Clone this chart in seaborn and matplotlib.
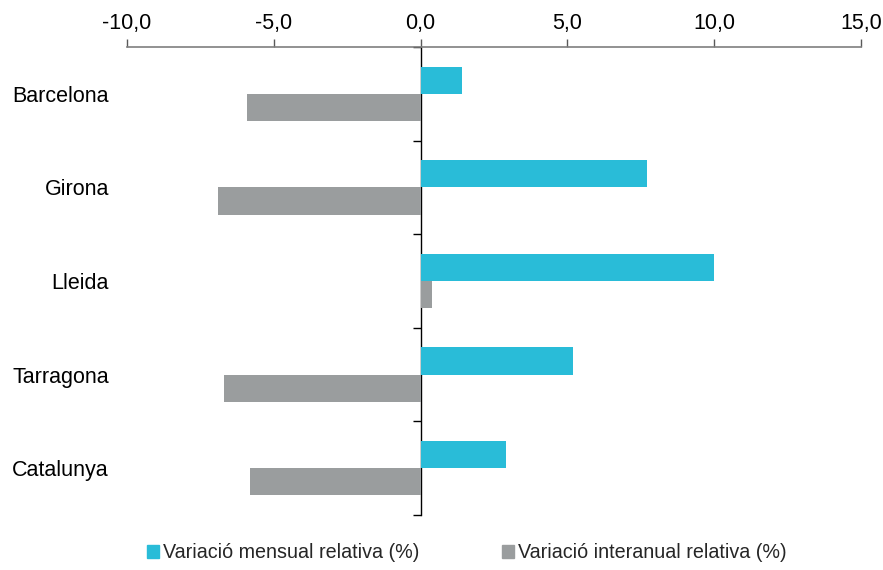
import pandas as pd
import numpy as np
import matplotlib
matplotlib.use("Agg")
import matplotlib.pyplot as plt
import seaborn as sns

# dades
zones = ["Barcelona", "Girona", "Lleida", "Tarragona", "Catalunya"]
mensual = [1.4, 7.7, 10.0, 5.2, 2.9]
interanual = [-5.9, -6.9, 0.4, -6.7, -5.8]
series = ["Variació mensual relativa (%)", "Variació interanual relativa (%)"]
colors = ["#29BCD8", "#9A9D9E"]
xticks = [-10, -5, 0, 5, 10, 15]

df = pd.DataFrame({
    "zona": zones * 2,
    "valor": mensual + interanual,
    "serie": [series[0]] * len(zones) + [series[1]] * len(zones),
})

sns.set_style("white")
plt.rcParams["font.family"] = ["Liberation Sans", "DejaVu Sans"]

fig = plt.figure(figsize=(8.83, 5.70), dpi=100)
ax = fig.add_axes([127 / 883, 1 - 515 / 570, (861 - 127) / 883, (515 - 47) / 570])

sns.barplot(data=df, y="zona", x="valor", hue="serie", orient="h",
            palette=colors, saturation=1, width=0.58, gap=0, ax=ax,
            legend=False, linewidth=0)

ax.set_xlim(xticks[0], xticks[-1])
ax.set_ylim(len(zones) - 0.5, -0.5)
ax.set_xticks(xticks)
ax.set_xticklabels([f"{v:.1f}".replace(".", ",") for v in xticks])
ax.xaxis.tick_top()
ax.tick_params(axis="x", top=True, bottom=False, direction="out", length=6,
               width=1, color="#595959", labelsize=15.5, pad=3, labelcolor="black")
ax.tick_params(axis="y", left=False, length=0, labelsize=15.5, pad=13, labelcolor="black")
ax.set_xlabel("")
ax.set_ylabel("")

for s in ["left", "right", "bottom"]:
    ax.spines[s].set_visible(False)
ax.spines["top"].set_color("#7f7f7f")
ax.spines["top"].set_linewidth(1.2)

# eix vertical al zero amb marques entre categories
pos0 = (0 - xticks[0]) / (xticks[-1] - xticks[0])
sec = ax.secondary_yaxis(pos0)
sec.set_yticks(np.arange(len(zones) + 1) - 0.5)
sec.tick_params(axis="y", direction="out", length=6, width=1, color="black", labelleft=False)
sec.spines["left"].set_color("black")
sec.spines["left"].set_linewidth(1)

handles = [plt.Rectangle((0, 0), 1, 1, color=c) for c in colors]
fig.legend(handles, series, loc="center", bbox_to_anchor=(467 / 883, 1 - 553 / 570),
           ncol=2, frameon=False, fontsize=14.2, handlelength=0.6, handleheight=0.6,
           handletextpad=0.2, columnspacing=4.2)

fig.savefig("out.png", dpi=100)
